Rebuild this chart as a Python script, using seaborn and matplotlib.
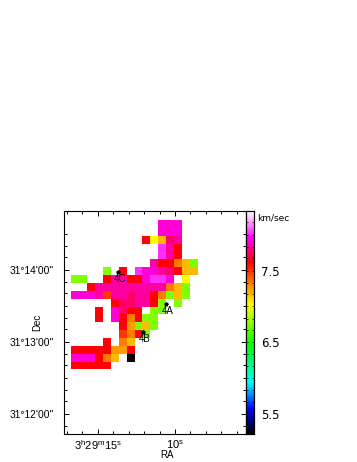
import matplotlib
matplotlib.use("Agg")
import matplotlib.pyplot as plt
from matplotlib.colors import LinearSegmentedColormap
import numpy as np
import pandas as pd
import seaborn as sns

plt.rcParams["mathtext.fontset"] = "custom"
plt.rcParams["mathtext.rm"] = "Liberation Sans"

# velocity levels (km/sec)
_ = np.nan
P1 = 8.02
P2 = 7.90
P3 = 7.83
P4 = 7.75
R = 7.62
RO = 7.48
O = 7.33
A = 7.25
G = 7.18
Y = 7.03
L = 6.75
K = 5.22

velocity = [
    [_, _, _, _, _, _, _, _, _, _, _, P2, P2, P2, _, _],
    [_, _, _, _, _, _, _, _, _, _, _, P2, P2, P2, _, _],
    [_, _, _, _, _, _, _, _, _, R, Y, G, P4, P3, _, _],
    [_, _, _, _, _, _, _, _, _, _, _, P1, P3, R, _, _],
    [_, _, _, _, _, _, _, _, _, _, _, P1, P3, R, _, _],
    [_, _, _, _, _, _, _, _, _, _, P3, R, R, O, G, L],
    [_, _, _, _, L, _, R, _, P1, P2, P2, P3, P4, R, G, G],
    [L, L, _, _, R, P3, P3, R, R, P2, P1, P1, P2, _, Y, _],
    [_, _, R, P3, P3, P3, P3, P3, P3, P3, P3, P3, O, G, L, _],
    [P2, P2, P2, P3, RO, P3, P3, P4, P3, P3, R, O, L, G, L, _],
    [_, _, _, _, _, R, P4, P4, P3, P3, R, L, _, L, _, _],
    [_, _, _, R, _, P2, P4, R, R, _, L, L, _, _, _, _],
    [_, _, _, R, _, P2, R, O, R, L, L, _, _, _, _, _],
    [_, _, _, _, _, _, R, A, L, G, L, _, _, _, _, _],
    [_, _, _, _, _, _, RO, O, R, L, _, _, _, _, _, _],
    [_, _, _, _, R, _, O, G, _, _, _, _, _, _, _, _],
    [R, R, R, R, R, A, A, R, _, _, _, _, _, _, _, _],
    [P2, P2, P2, R, O, G, _, K, _, _, _, _, _, _, _, _],
    [R, R, R, R, R, _, _, _, _, _, _, _, _, _, _, _],
]

ra_major = [15, 10]
ra_major_labels = ["$3^{\\mathrm{h}}29^{\\mathrm{m}}15^{\\mathrm{s}}$", "$10^{\\mathrm{s}}$"]
ra_minor = [17, 16, 15, 14, 13, 12, 11, 10, 9, 8, 7, 6]
dec_major = [14, 13, 12]
dec_major_labels = ["31°14'00\"", "31°13'00\"", "31°12'00\""]
dec_minor = [14.5, 14.33, 14.17, 14, 13.83, 13.67, 13.5, 13.33, 13.17,
             13, 12.83, 12.67, 12.5, 12.33, 12.17, 12, 11.83]
cbar_major = [5.5, 6.5, 7.5]
cbar_minor = [5.33, 5.5, 5.67, 5.83, 6.0, 6.17, 6.33, 6.5, 6.67, 6.83, 7.0,
              7.17, 7.33, 7.5, 7.67, 7.83, 8.0, 8.17]
core_names = ["4C", "4A", "4B"]
core_ra = [13.69, 10.55, 12.07]
core_dec = [13.97, 13.52, 13.135]

W, H = 357, 462
fig = plt.figure(figsize=(W / 100, H / 100), dpi=100)
ax = fig.add_axes([63.5 / W, 1 - 434 / H, 182 / W, 223 / H])
cax = fig.add_axes([245.5 / W, 1 - 434 / H, 8.5 / W, 223 / H])

cmap = LinearSegmentedColormap.from_list("vel", [
    (0.0, "#000000"), (0.11, "#0000ff"), (0.23, "#00ffff"), (0.40, "#00ff00"),
    (0.58, "#ffff00"), (0.77, "#ff0000"), (0.88, "#ff00ff"), (1.0, "#ffffff"),
])

sns.heatmap(
    pd.DataFrame(velocity),
    ax=ax,
    cbar_ax=cax,
    cmap=cmap,
    vmin=5.22,
    vmax=8.33,
    xticklabels=False,
    yticklabels=False,
)

# sky coordinates to heatmap cells
def ra_x(ra):
    return 3.34 + (15 - np.asarray(ra)) * 1.957

def dec_y(dec):
    return 6.3 + (14 - np.asarray(dec)) * 9.15

ax.set_xlim(-0.99, 22.05)
ax.set_ylim(27.2, -1.14)

for s in ax.spines.values():
    s.set_visible(True)
    s.set_linewidth(0.8)
    s.set_color("black")

ax.set_xticks(ra_x(ra_major))
ax.set_xticklabels(ra_major_labels, fontsize=8, family="Liberation Sans")
ax.set_xticks(ra_x(ra_minor), minor=True)
ax.set_yticks(dec_y(dec_major))
ax.set_yticklabels(dec_major_labels, fontsize=7.4, family="Liberation Sans", rotation=0)
ax.set_yticks(dec_y(dec_minor), minor=True)
ax.tick_params(which="both", direction="in", top=True, right=True, width=0.7)
ax.tick_params(which="major", length=3.5)
ax.tick_params(which="minor", length=2)
ax.tick_params(axis="y", which="major", pad=7)
ax.tick_params(axis="x", which="major", pad=3)

ax.set_xlabel("RA", fontsize=7, family="Liberation Sans", labelpad=1)
ax.set_ylabel("Dec", fontsize=7, family="Liberation Sans", labelpad=1)
ax.yaxis.set_label_coords(-0.115, 0.5)
ax.xaxis.set_label_coords(0.57, -0.07)

ax.plot(ra_x(core_ra), dec_y(core_dec), ls="none", marker="*", ms=2.8, color="black")
for name, r, d in zip(core_names, core_ra, core_dec):
    ax.text(ra_x(r) + 0.2, dec_y(d) + 0.9, name, fontsize=7, family="Liberation Sans",
            ha="center", va="center", color="black")

cax.set_yticks(cbar_major)
cax.set_yticklabels(["5.5", "6.5", "7.5"], fontsize=8.5)
cax.set_yticks(cbar_minor, minor=True)
cax.tick_params(which="both", direction="in", left=True, right=True, width=0.5, pad=5)
cax.tick_params(which="major", length=1.5)
cax.tick_params(which="minor", length=1.5)
for s in cax.spines.values():
    s.set_visible(True)
    s.set_linewidth(0.8)
    s.set_color("black")
cax.text(1.35, 0.97, "km/sec", transform=cax.transAxes, fontsize=6.5, va="center", ha="left")

fig.savefig("out.png", dpi=100)
